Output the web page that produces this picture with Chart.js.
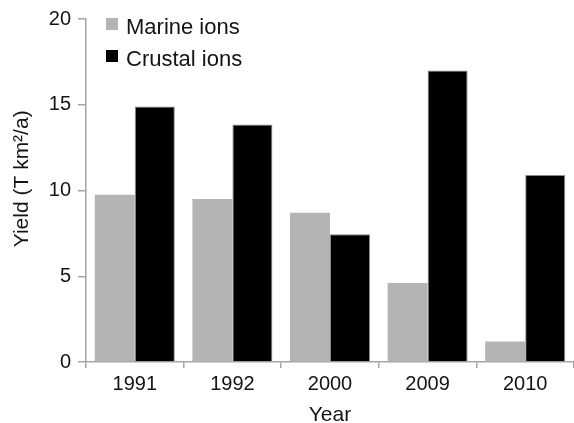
<!DOCTYPE html>
<html>
<head>
<meta charset="utf-8">
<script src="https://cdn.jsdelivr.net/npm/chart.js@4/dist/chart.umd.min.js"></script>
<style>
html,body{margin:0;padding:0;background:#fff;}
#wrap{width:574px;height:423px;position:relative;}
</style>
</head>
<body>
<div id="wrap"><canvas id="c" width="574" height="423"></canvas></div>
<script>
const years = ["1991", "1992", "2000", "2009", "2010"];
const marineIons = [9.75, 9.5, 8.7, 4.6, 1.2];
const crustalIons = [14.9, 13.85, 7.45, 17.0, 10.9];
const yTicks = [0, 5, 10, 15, 20];
const seriesNames = ["Marine ions", "Crustal ions"];

const FONT = "'Liberation Sans', Arial, Helvetica, sans-serif";
const TXT = '#141414';
const AXIS = '#a6a6a6';

const insideLegend = {
  id: 'insideLegend',
  afterDraw(chart) {
    const ctx = chart.ctx;
    const area = chart.chartArea;
    ctx.save();
    ctx.font = '22px ' + FONT;
    ctx.textBaseline = 'alphabetic';
    ctx.textAlign = 'left';
    chart.data.datasets.forEach((ds, i) => {
      const sqX = area.left + 20;
      const sqY = 18 + i * 32;
      ctx.fillStyle = ds.backgroundColor;
      ctx.fillRect(sqX, sqY, 12, 12);
      ctx.fillStyle = TXT;
      ctx.fillText(ds.label, area.left + 40, 33.5 + i * 32);
    });
    ctx.restore();
  }
};

new Chart(document.getElementById('c'), {
  type: 'bar',
  data: {
    labels: years,
    datasets: [
      { label: seriesNames[0], data: marineIons, backgroundColor: '#b4b4b4', borderColor: '#b4b4b4', borderWidth: 0 },
      { label: seriesNames[1], data: crustalIons, backgroundColor: '#000000', borderColor: '#8a8a8a', borderWidth: 1 }
    ]
  },
  plugins: [insideLegend],
  options: {
    responsive: false,
    animation: false,
    devicePixelRatio: 1,
    layout: { padding: { top: 19, right: 0, left: 0, bottom: 0 } },
    datasets: { bar: { categoryPercentage: 0.82, barPercentage: 1.0 } },
    plugins: {
      tooltip: { enabled: false },
      legend: { display: false }
    },
    scales: {
      x: {
        grid: { offset: true, drawOnChartArea: false, drawTicks: true, tickLength: 6, color: AXIS, lineWidth: 1.5 },
        border: { color: AXIS, width: 1.5 },
        ticks: { font: { family: FONT, size: 20 }, color: TXT, padding: 4 },
        title: { display: true, text: 'Year', font: { family: FONT, size: 21, lineHeight: 1.0 }, color: TXT, padding: { top: 0, bottom: -3 } },
        afterFit(scale) { scale.height = 61; }
      },
      y: {
        min: 0, max: 20,
        afterBuildTicks(scale) { scale.ticks = yTicks.map(v => ({ value: v })); },
        grid: { drawOnChartArea: false, drawTicks: true, tickLength: 8, color: AXIS, lineWidth: 1.5 },
        border: { color: AXIS, width: 1.5 },
        ticks: { font: { family: FONT, size: 20 }, color: TXT, padding: 7 },
        title: { display: true, text: '    Yield (T km²/a)', font: { family: FONT, size: 21 }, color: TXT, padding: { top: 10, bottom: 0 } },
        afterFit(scale) { scale.width = 86; }
      }
    }
  }
});
</script>
</body>
</html>
